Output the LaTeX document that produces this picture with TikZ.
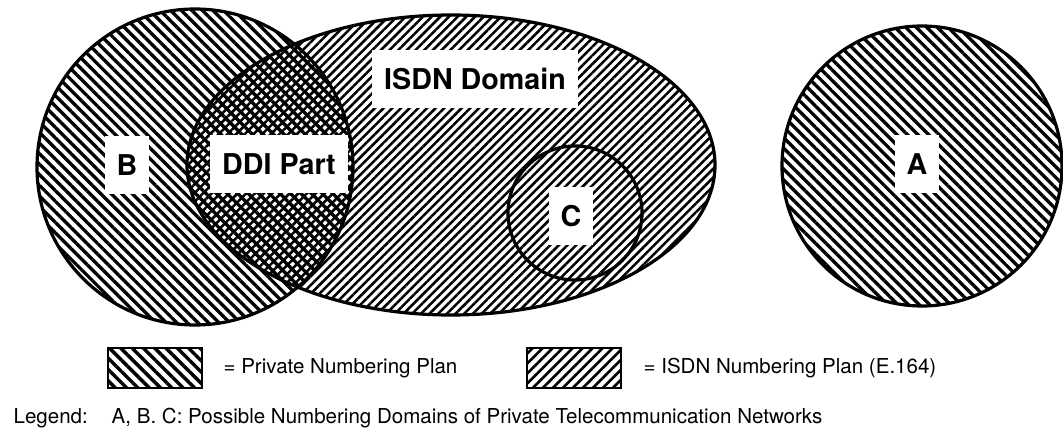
\documentclass[tikz,border=0pt]{standalone}
\usepackage{fontspec}
\setmainfont{TeX Gyre Heros}
\usetikzlibrary{patterns.meta}

\begin{document}
\begin{tikzpicture}[x=0.75pt,y=-0.75pt,line width=2.4pt,
   priv/.style={pattern={Lines[angle=-45,distance=5.6pt,line width=2.5pt]}},
   isdn/.style={pattern={Lines[angle=45,distance=4.6pt,line width=1.9pt]}},
   lbl/.style={fill=white,inner xsep=9pt,minimum height=43pt,font=\fontsize{21.5}{24}\selectfont\bfseries},
   leg/.style={draw,line width=2.2pt,minimum width=70.5pt,minimum height=30pt,inner sep=0pt},
   txt/.style={anchor=west,inner sep=0pt,font=\fontsize{15.4}{18}\selectfont}]
  \useasboundingbox (0,0) rectangle (1063,431);
  % hatched areas (overlap of B and the ISDN domain gives the DDI part)
  \fill[isdn] (451,165) ellipse [x radius=264,y radius=150];
  \fill[priv] (195,167) circle [radius=158];
  \fill[priv] (922,166) circle [radius=140];
  % outlines
  \draw (451,165) ellipse [x radius=264,y radius=150];
  \draw (195,167) circle [radius=158];
  \draw (575,213) circle [radius=67];
  \draw (922,166) circle [radius=140];
  % labels
  \node[lbl] (isdnlbl) at (475,79)  {ISDN Domain};
  \node[lbl] (blbl)    at (127,165) {B};
  \node[lbl] (ddilbl)  at (279,164) {DDI Part};
  \node[lbl] (clbl)    at (571,216) {C};
  \node[lbl] (albl)    at (917,164) {A};
  % legend
  \node[leg,pattern={Lines[angle=-45,distance=6pt,line width=2.6pt]}] (swpriv) at (155,368) {};
  \node[txt] (txpriv) at (222,368) {= Private Numbering Plan};
  \node[leg,pattern={Lines[angle=45,distance=5.3pt,line width=2pt]}] (swisdn) at (574,368) {};
  \node[txt] (txisdn) at (642,368) {= ISDN Numbering Plan (E.164)};
  \node[txt] (legend) at (12,418)  {Legend:};
  \node[txt] (legtxt) at (110,418) {A, B. C: Possible Numbering Domains of Private Telecommunication Networks};
\end{tikzpicture}
\end{document}
